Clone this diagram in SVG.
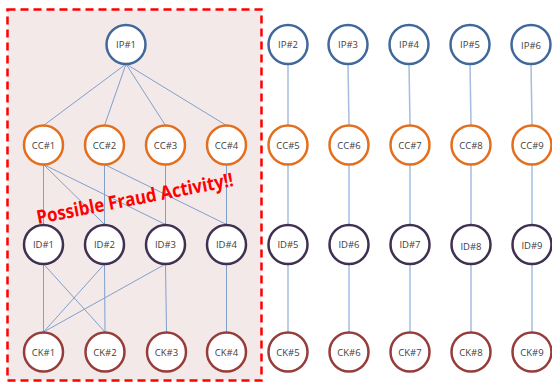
<svg xmlns="http://www.w3.org/2000/svg" width="552" height="383" viewBox="0 0 552 383">
<style>
.n circle{fill:#ffffff;stroke-width:2.5}
.ip circle{stroke:#41689a}
.cc circle{stroke:#e36f1e}
.id circle{stroke:#3f3150}
.ck circle{stroke:#963c3a}
.n text{font-family:"Open Sans","Noto Sans",sans-serif;font-size:9.5px;fill:#404040;text-anchor:middle;dominant-baseline:central}
.e line{stroke:#809fcc;stroke-width:1}
.v line{stroke:#a4bde0;stroke-width:1.5}
</style>
<rect x="0" y="0" width="552" height="383" fill="#ffffff"/>
<rect id="fraud-box" x="7.5" y="9.5" width="254" height="371" fill="#f4e9e9" stroke="#ff0000" stroke-width="2.5" stroke-dasharray="8,5"/>
<g id="connectors">
<g class="e">
<line x1="126" y1="64" x2="43.5" y2="125.5"/>
<line x1="126" y1="64" x2="104.5" y2="125.5"/>
<line x1="126" y1="64" x2="165.5" y2="125.5"/>
<line x1="126" y1="64" x2="226.5" y2="125.5"/>
<line x1="43.5" y1="164.5" x2="43.5" y2="224.5"/>
<line x1="43.5" y1="164.5" x2="104.5" y2="224.5"/>
<line x1="43.5" y1="164.5" x2="165.5" y2="224.5"/>
<line x1="104.5" y1="164.5" x2="104.5" y2="224.5"/>
<line x1="104.5" y1="164.5" x2="226.5" y2="224.5"/>
<line x1="165.5" y1="164.5" x2="165.5" y2="224.5"/>
<line x1="226.5" y1="164.5" x2="226.5" y2="224.5"/>
<line x1="43.5" y1="264" x2="43.5" y2="332"/>
<line x1="43.5" y1="264" x2="105" y2="332"/>
<line x1="104.5" y1="264" x2="43.5" y2="332"/>
<line x1="104.5" y1="264" x2="105" y2="332"/>
<line x1="165.5" y1="264" x2="43.5" y2="332"/>
<line x1="165.5" y1="264" x2="166.5" y2="332"/>
<line x1="226.5" y1="264" x2="226.5" y2="332"/>
</g>
<g class="v">
<line x1="288" y1="64" x2="288" y2="332"/>
<line x1="348" y1="64" x2="349" y2="125"/>
<line x1="349" y1="164" x2="349" y2="332"/>
<line x1="409" y1="64" x2="410" y2="125"/>
<line x1="410" y1="164" x2="410" y2="332"/>
<line x1="470" y1="64" x2="471" y2="125"/>
<line x1="471" y1="164" x2="471" y2="332"/>
<line x1="531" y1="64" x2="532" y2="125"/>
<line x1="532" y1="164" x2="532" y2="332"/>
</g>
</g>
<g id="IP1" class="n ip"><circle cx="126" cy="44.5" r="19.5"/><text x="126" y="44.5">IP#1</text></g>
<g id="IP2" class="n ip"><circle cx="288" cy="44.5" r="19.5"/><text x="288" y="44.5">IP#2</text></g>
<g id="IP3" class="n ip"><circle cx="348" cy="44.5" r="19.5"/><text x="348" y="44.5">IP#3</text></g>
<g id="IP4" class="n ip"><circle cx="409" cy="44.5" r="19.5"/><text x="409" y="44.5">IP#4</text></g>
<g id="IP5" class="n ip"><circle cx="470" cy="44.5" r="19.5"/><text x="470" y="44.5">IP#5</text></g>
<g id="IP6" class="n ip"><circle cx="531" cy="44.5" r="19.5"/><text x="531" y="45.5">IP#6</text></g>
<g id="CC1" class="n cc"><circle cx="43.5" cy="145" r="19.5"/><text x="43.5" y="145">CC#1</text></g>
<g id="CC2" class="n cc"><circle cx="104.5" cy="145" r="19.5"/><text x="104.5" y="145">CC#2</text></g>
<g id="CC3" class="n cc"><circle cx="165.5" cy="145" r="19.5"/><text x="165.5" y="145">CC#3</text></g>
<g id="CC4" class="n cc"><circle cx="226.5" cy="145" r="19.5"/><text x="226.5" y="145">CC#4</text></g>
<g id="CC5" class="n cc"><circle cx="288" cy="145" r="19.5"/><text x="288" y="145">CC#5</text></g>
<g id="CC6" class="n cc"><circle cx="349" cy="145" r="19.5"/><text x="349" y="145">CC#6</text></g>
<g id="CC7" class="n cc"><circle cx="410" cy="145" r="19.5"/><text x="410" y="145">CC#7</text></g>
<g id="CC8" class="n cc"><circle cx="471" cy="145" r="19.5"/><text x="471" y="145">CC#8</text></g>
<g id="CC9" class="n cc"><circle cx="532" cy="145" r="19.5"/><text x="532" y="145">CC#9</text></g>
<g id="ID1" class="n id"><circle cx="43.5" cy="244.5" r="19.5"/><text x="43.5" y="244.5">ID#1</text></g>
<g id="ID2" class="n id"><circle cx="104.5" cy="244.5" r="19.5"/><text x="104.5" y="244.5">ID#2</text></g>
<g id="ID3" class="n id"><circle cx="165.5" cy="244.5" r="19.5"/><text x="165.5" y="244.5">ID#3</text></g>
<g id="ID4" class="n id"><circle cx="226.5" cy="244.5" r="19.5"/><text x="226.5" y="244.5">ID#4</text></g>
<g id="ID5" class="n id"><circle cx="288" cy="244.5" r="19.5"/><text x="288" y="244.5">ID#5</text></g>
<g id="ID6" class="n id"><circle cx="349" cy="244.5" r="19.5"/><text x="349" y="244.5">ID#6</text></g>
<g id="ID7" class="n id"><circle cx="410" cy="244.5" r="19.5"/><text x="410" y="244">ID#7</text></g>
<g id="ID8" class="n id"><circle cx="471" cy="244.5" r="19.5"/><text x="471" y="246">ID#8</text></g>
<g id="ID9" class="n id"><circle cx="532" cy="244.5" r="19.5"/><text x="532" y="245">ID#9</text></g>
<g id="CK1" class="n ck"><circle cx="43.5" cy="352" r="19.5"/><text x="43.5" y="352">CK#1</text></g>
<g id="CK2" class="n ck"><circle cx="105" cy="352" r="19.5"/><text x="105" y="352">CK#2</text></g>
<g id="CK3" class="n ck"><circle cx="166.5" cy="352" r="19.5"/><text x="166.5" y="352">CK#3</text></g>
<g id="CK4" class="n ck"><circle cx="226.5" cy="352" r="19.5"/><text x="226.5" y="352">CK#4</text></g>
<g id="CK5" class="n ck"><circle cx="288" cy="352" r="19.5"/><text x="288" y="352">CK#5</text></g>
<g id="CK6" class="n ck"><circle cx="349" cy="352" r="19.5"/><text x="349" y="352">CK#6</text></g>
<g id="CK7" class="n ck"><circle cx="410" cy="352" r="19.5"/><text x="410" y="352">CK#7</text></g>
<g id="CK8" class="n ck"><circle cx="471" cy="352" r="19.5"/><text x="471" y="352">CK#8</text></g>
<g id="CK9" class="n ck"><circle cx="532" cy="352" r="19.5"/><text x="532" y="352">CK#9</text></g>
<text id="fraud-label" x="38" y="224" transform="rotate(-11 38 224)" font-family="'Open Sans','Noto Sans',sans-serif" font-size="19" font-weight="bold" fill="#ff0000" textLength="200" lengthAdjust="spacingAndGlyphs">Possible Fraud Activity!!</text>
</svg>
